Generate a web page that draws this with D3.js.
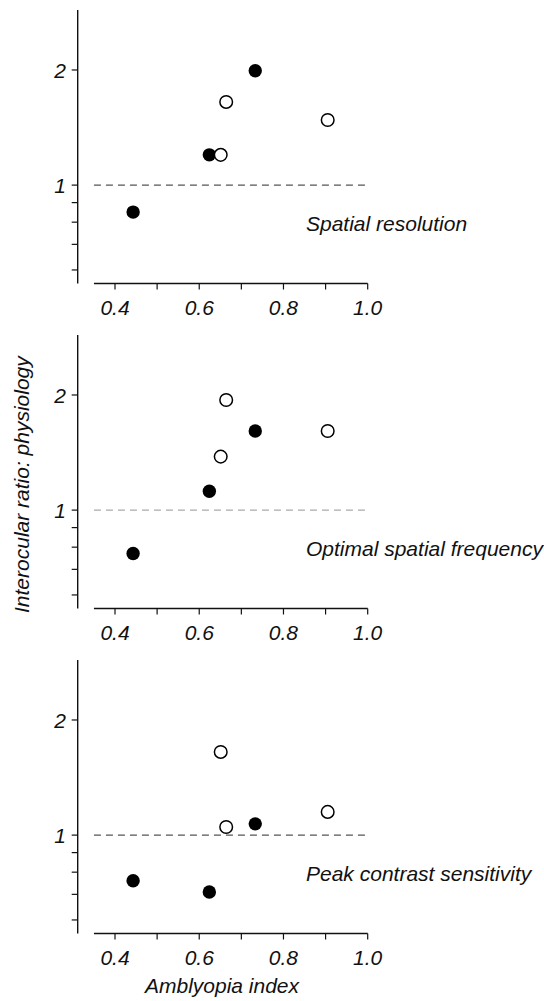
<!DOCTYPE html>
<html>
<head>
<meta charset="utf-8">
<script src="https://cdn.jsdelivr.net/npm/d3@7"></script>
<style>
  html, body { margin: 0; padding: 0; background: #fff; }
  svg text { font-family: "Liberation Sans", Arial, Helvetica, sans-serif; font-style: italic; fill: #111; }
</style>
</head>
<body>
<svg id="chart" width="544" height="1001"></svg>
<script>
// ---- data ----
const panelTitles = ["Spatial resolution", "Optimal spatial frequency", "Peak contrast sensitivity"];
const filledX = [0.443, 0.624, 0.733];
const openX = [0.651, 0.664, 0.905];
const resolutionFilled = [0.85, 1.2, 1.99];
const resolutionOpen = [1.2, 1.65, 1.48];
const frequencyFilled = [0.77, 1.12, 1.61];
const frequencyOpen = [1.38, 1.94, 1.61];
const contrastFilled = [0.76, 0.71, 1.07];
const contrastOpen = [1.65, 1.05, 1.15];
const xTickLabels = [0.4, 0.6, 0.8, 1.0];
const xMinorTicks = [0.5, 0.7, 0.9];
const yTicks = [0.6, 0.7, 0.8, 0.9, 1, 2];
const yTickLabels = [1, 2];
const referenceLevel = 1;
const xLabel = "Amblyopia index";
const yLabel = "Interocular ratio: physiology";

const panels = [
  {title: panelTitles[0], filled: resolutionFilled, open: resolutionOpen, dash: "#555", dashW: 1.4},
  {title: panelTitles[1], filled: frequencyFilled, open: frequencyOpen, dash: "#aaa", dashW: 1.4},
  {title: panelTitles[2], filled: contrastFilled, open: contrastOpen, dash: "#555", dashW: 1.1}
];

// ---- layout ----
const svg = d3.select("#chart");
const axisX = 77.7;
const panelStep = 325;
const panelTop0 = 10;
const panelH = 273.5;
const x = d3.scaleLinear().domain([0.4, 1.0]).range([115, 367.7]);
const xStart = 0.35;
const fs = 21;

panels.forEach((p, i) => {
  const top = panelTop0 + i * panelStep;
  const bottom = top + panelH;
  const y = d3.scaleLog().domain([0.553, 2.87]).range([bottom, top]);
  const g = svg.append("g");

  // y axis line
  g.append("line").attr("x1", axisX).attr("x2", axisX).attr("y1", top).attr("y2", bottom)
    .attr("stroke", "#111").attr("stroke-width", 1.4);
  g.selectAll(".yt").data(yTicks).join("line")
    .attr("x1", axisX - 6).attr("x2", axisX)
    .attr("y1", d => y(d)).attr("y2", d => y(d))
    .attr("stroke", "#111").attr("stroke-width", 1.2);
  g.selectAll(".yl").data(yTickLabels).join("text")
    .attr("x", 66).attr("y", d => y(d)).attr("dy", "0.36em")
    .attr("text-anchor", "end").attr("font-size", fs)
    .text(d => d3.format("d")(d));

  // x axis
  g.append("line").attr("x1", x(xStart)).attr("x2", x(1.0)).attr("y1", bottom).attr("y2", bottom)
    .attr("stroke", "#111").attr("stroke-width", 1.4);
  g.selectAll(".xt").data(xTickLabels.concat(xMinorTicks)).join("line")
    .attr("x1", d => x(d)).attr("x2", d => x(d))
    .attr("y1", bottom).attr("y2", bottom + 6)
    .attr("stroke", "#111").attr("stroke-width", 1.2);
  g.selectAll(".xl").data(xTickLabels).join("text")
    .attr("x", d => x(d)).attr("y", bottom + 31)
    .attr("text-anchor", "middle").attr("font-size", fs)
    .text(d => d3.format(".1f")(d));

  // reference line
  g.append("line").attr("x1", x(xStart)).attr("x2", x(1.0))
    .attr("y1", y(referenceLevel)).attr("y2", y(referenceLevel))
    .attr("stroke", p.dash).attr("stroke-width", p.dashW).attr("stroke-dasharray", "7,5");

  // points
  g.selectAll(".f").data(filledX.map((v, k) => [v, p.filled[k]])).join("circle")
    .attr("cx", d => x(d[0])).attr("cy", d => y(d[1])).attr("r", 6.7)
    .attr("fill", "#000");
  g.selectAll(".o").data(openX.map((v, k) => [v, p.open[k]])).join("circle")
    .attr("cx", d => x(d[0])).attr("cy", d => y(d[1])).attr("r", 6.3)
    .attr("fill", "#fff").attr("stroke", "#000").attr("stroke-width", 1.5);

  // panel title
  g.append("text").attr("x", 306).attr("y", top + 221)
    .attr("font-size", fs).text(p.title);
});

// axis titles
svg.append("text").attr("x", 222).attr("y", 993)
  .attr("text-anchor", "middle").attr("font-size", fs).text(xLabel);
svg.append("text").attr("transform", "translate(29,613) rotate(-90)")
  .attr("text-anchor", "start").attr("font-size", 21).text(yLabel);
</script>
</body>
</html>
